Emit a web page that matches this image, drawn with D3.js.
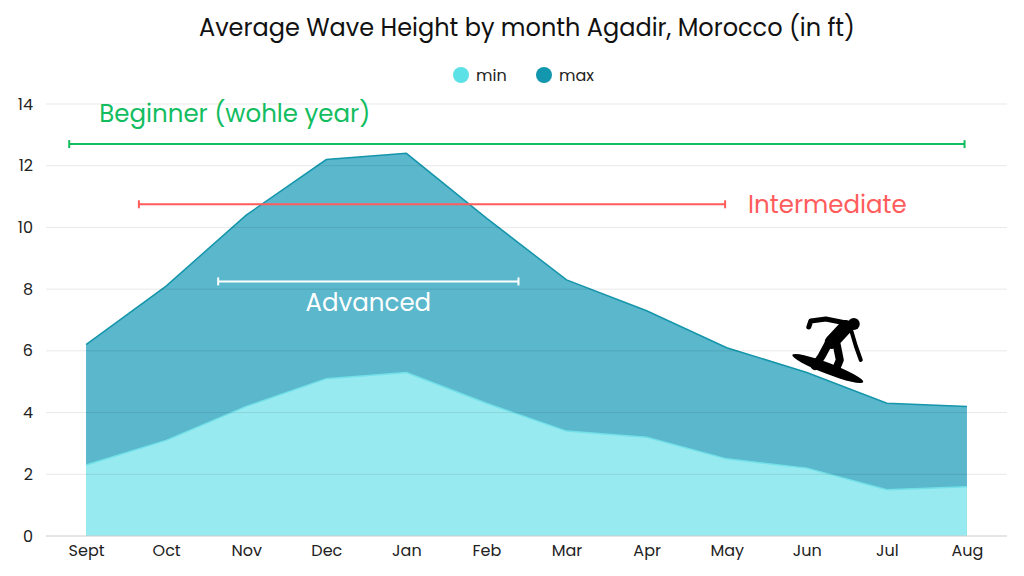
<!DOCTYPE html>
<html>
<head>
<meta charset="utf-8">
<script src="https://cdn.jsdelivr.net/npm/d3@7"></script>
<style>
  body { margin: 0; background: #fff; }
  text { font-family: Poppins, Inter, "Noto Sans", sans-serif; }
</style>
</head>
<body>
<script>
// data
const months = ["Sept", "Oct", "Nov", "Dec", "Jan", "Feb", "Mar", "Apr", "May", "Jun", "Jul", "Aug"];
const minHeight = [2.3, 3.1, 4.2, 5.1, 5.3, 4.3, 3.4, 3.2, 2.5, 2.2, 1.5, 1.6];
const maxHeight = [6.2, 8.1, 10.4, 12.2, 12.4, 10.3, 8.3, 7.3, 6.1, 5.3, 4.3, 4.2];
const yTicks = [0, 2, 4, 6, 8, 10, 12, 14];

// skill level ranges (height in ft, start / end as month index)
const levels = ["Beginner (wohle year)", "Intermediate", "Advanced"];
const levelHeight = [12.7, 10.75, 8.25];
const levelStart = [-0.21, 0.66, 1.65];
const levelEnd = [10.97, 7.98, 5.4];
const levelColor = ["#13bd5f", "#ff5c5c", "#ffffff"];

const w = 1024, h = 576;
const padL = 46, padR = 1007, padT = 104, padB = 536;

const svg = d3.select("body").append("svg")
  .attr("width", w)
  .attr("height", h);

const x = d3.scalePoint()
  .domain(months)
  .range([padL, padR])
  .padding(0.5);

const xIdx = d3.scaleLinear()
  .domain([0, months.length - 1])
  .range([x(months[0]), x(months[months.length - 1])]);

const y = d3.scaleLinear()
  .domain([0, 14])
  .range([padB, padT]);

// title
svg.append("text")
  .attr("x", 527).attr("y", 36)
  .attr("text-anchor", "middle")
  .style("font-size", "24px")
  .attr("fill", "#111")
  .text("Average Wave Height by month Agadir, Morocco (in ft)");

// legend
const legend = [["min", "#5ce1e6"], ["max", "#1297ae"]];
const lg = svg.append("g").selectAll("g")
  .data(legend)
  .enter().append("g")
  .attr("transform", (d, i) => "translate(" + (461 + i * 83) + ",75)");
lg.append("circle").attr("r", 8).attr("fill", d => d[1]);
lg.append("text")
  .attr("x", 15).attr("dy", "0.35em")
  .style("font-size", "16px")
  .attr("fill", "#222")
  .text(d => d[0]);

// areas
const area = d3.area()
  .x((d, i) => x(months[i]))
  .y0(y(0))
  .y1(d => y(d));
const line = d3.line()
  .x((d, i) => x(months[i]))
  .y(d => y(d));

svg.append("path").datum(maxHeight)
  .attr("d", area)
  .attr("fill", "#5ab7cc");
svg.append("path").datum(maxHeight)
  .attr("d", line)
  .attr("fill", "none")
  .attr("stroke", "#1495ab")
  .attr("stroke-width", 1.5);
svg.append("path").datum(minHeight)
  .attr("d", area)
  .attr("fill", "#97eaef");
svg.append("path").datum(minHeight)
  .attr("d", line)
  .attr("fill", "none")
  .attr("stroke", "#72e0e8")
  .attr("stroke-width", 1.5);

// grid
svg.append("g").selectAll("line")
  .data(yTicks)
  .enter().append("line")
  .attr("x1", padL).attr("x2", padR)
  .attr("y1", d => y(d)).attr("y2", d => y(d))
  .attr("stroke", d => d === 0 ? "#cccccc" : "rgba(0,0,0,0.09)")
  .attr("stroke-width", 1);

// axes
const yAxis = d3.axisLeft(y).tickValues(yTicks).tickSize(0).tickPadding(13);
svg.append("g")
  .attr("transform", "translate(" + padL + ",0)")
  .style("font-size", "16px")
  .call(yAxis)
  .call(g => g.select(".domain").remove())
  .selectAll("text").attr("fill", "#222").style("font-family", "Poppins, Inter, sans-serif");

const xAxis = d3.axisBottom(x).tickSize(0).tickPadding(9);
svg.append("g")
  .attr("transform", "translate(0," + padB + ")")
  .style("font-size", "16px")
  .call(xAxis)
  .call(g => g.select(".domain").remove())
  .selectAll("text").attr("fill", "#222").style("font-family", "Poppins, Inter, sans-serif");

// skill level ranges
levels.forEach((name, i) => {
  const x1 = xIdx(levelStart[i]), x2 = xIdx(levelEnd[i]), yy = y(levelHeight[i]);
  const g = svg.append("g").attr("stroke", levelColor[i]).attr("stroke-width", 2);
  g.append("line").attr("x1", x1).attr("x2", x2).attr("y1", yy).attr("y2", yy);
  g.append("line").attr("x1", x1).attr("x2", x1).attr("y1", yy - 4).attr("y2", yy + 4);
  g.append("line").attr("x1", x2).attr("x2", x2).attr("y1", yy - 4).attr("y2", yy + 4);
  const t = svg.append("text")
    .attr("fill", levelColor[i])
    .style("font-size", "24.5px")
    .text(name);
  if (i === 0) t.attr("x", x1 + 30).attr("y", yy - 22);
  if (i === 1) t.attr("x", x2 + 23).attr("y", yy).attr("dy", "0.35em");
  if (i === 2) t.attr("x", (x1 + x2) / 2).attr("y", yy + 21).attr("dy", "0.35em").attr("text-anchor", "middle");
});

// surfer riding the max line at Jun
const jun = months.indexOf("Jun");
const surfer = svg.append("g")
  .attr("transform", "translate(" + (x("Jun") - 807) + "," + (y(maxHeight[jun]) - 372.5) + ")")
  .attr("fill", "#000").attr("stroke", "#000")
  .attr("stroke-linecap", "round").attr("stroke-linejoin", "round");
surfer.append("ellipse")
  .attr("cx", 828).attr("cy", 368.5).attr("rx", 38).attr("ry", 5.5)
  .attr("stroke", "none")
  .attr("transform", "rotate(21,828,368.5)");
surfer.append("circle").attr("cx", 854).attr("cy", 324).attr("r", 6).attr("stroke", "none");
surfer.append("path").attr("d", "M846,323 L826,319 L811,321 L809,327").attr("fill", "none").attr("stroke-width", 5);
surfer.append("path").attr("d", "M846,327 L832,342").attr("fill", "none").attr("stroke-width", 14);
surfer.append("path").attr("d", "M851,329 L856,346 L861,360").attr("fill", "none").attr("stroke-width", 4);
surfer.append("path").attr("d", "M829,343 L822,356 L815,366").attr("fill", "none").attr("stroke-width", 8);
surfer.append("path").attr("d", "M837,345 L840,360 L835,372").attr("fill", "none").attr("stroke-width", 8);
</script>
</body>
</html>
